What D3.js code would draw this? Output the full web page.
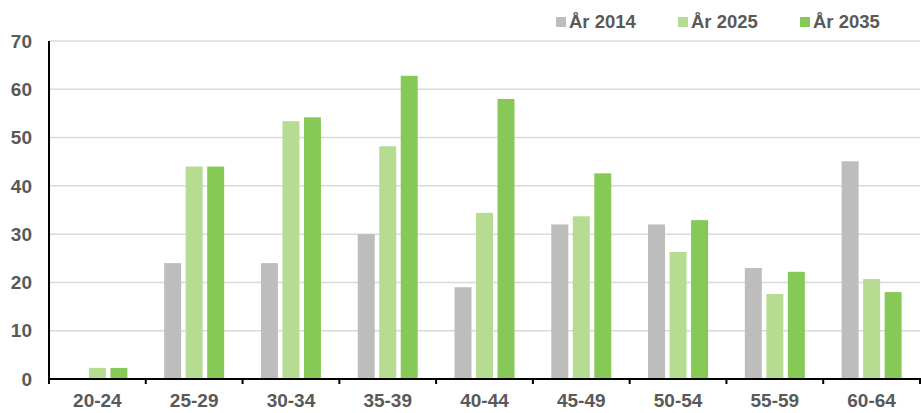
<!DOCTYPE html>
<html><head><meta charset="utf-8">
<script src="https://cdn.jsdelivr.net/npm/d3@7"></script>
<style>
html,body{margin:0;padding:0;background:#fff;}
svg{display:block;}
text{font-family:"Liberation Sans",Arial,sans-serif;font-weight:bold;fill:#595959;}
</style></head>
<body>
<svg id="c" width="921" height="413"></svg>
<script>
const categories = ["20-24","25-29","30-34","35-39","40-44","45-49","50-54","55-59","60-64"];
const seriesNames = ["År 2014","År 2025","År 2035"];
const seriesColors = ["#bdbdbb","#b6dc91","#86c957"];
const values2014 = [0, 24, 24, 30, 19, 32, 32, 23, 45.1];
const values2025 = [2.3, 44, 53.4, 48.2, 34.4, 33.7, 26.3, 17.6, 20.7];
const values2035 = [2.3, 44, 54.2, 62.8, 58, 42.6, 32.9, 22.2, 18];
const yTicks = [0,10,20,30,40,50,60,70];

const seriesValues = [values2014, values2025, values2035];
const svg = d3.select("#c");
const L = 49, R = 920, T = 41, B = 379;

const x = d3.scaleBand().domain(categories).range([L, R]).padding(0);
const y = d3.scaleLinear().domain([0,70]).range([B, T]);
const xi = d3.scaleBand().domain(seriesNames).range([-30, 30]).paddingInner(0.21).paddingOuter(0);

// gridlines
svg.append("g").selectAll("line").data(yTicks.filter(d=>d>0)).join("line")
  .attr("x1", L).attr("x2", R).attr("y1", d=>y(d)).attr("y2", d=>y(d))
  .attr("stroke", "#d9d9d9").attr("stroke-width", 1.5);

// y labels
svg.append("g").selectAll("text").data(yTicks).join("text")
  .attr("x", 32).attr("y", d=>y(d)).attr("dy", "0.35em")
  .attr("text-anchor", "end").attr("font-size", 19).text(d=>d);

// bars
seriesNames.forEach((s, si) => {
  svg.append("g").selectAll("rect")
    .data(categories.map((c, i) => ({c, v: seriesValues[si][i]})).filter(d => d.v > 0))
    .join("rect")
    .attr("x", d => x(d.c) + x.bandwidth()/2 + xi(s))
    .attr("width", xi.bandwidth())
    .attr("y", d => y(d.v))
    .attr("height", d => y(0) - y(d.v))
    .attr("fill", seriesColors[si]);
});

// axes lines
svg.append("line").attr("x1", L).attr("x2", L).attr("y1", T).attr("y2", B)
  .attr("stroke", "#000").attr("stroke-width", 2);
svg.append("line").attr("x1", L-1).attr("x2", R+1).attr("y1", B).attr("y2", B)
  .attr("stroke", "#000").attr("stroke-width", 2);
const bounds = categories.map(c => x(c)).concat([R]);
svg.append("g").selectAll("line").data(bounds).join("line")
  .attr("x1", d=>d).attr("x2", d=>d).attr("y1", B).attr("y2", B+5)
  .attr("stroke", "#000").attr("stroke-width", 2);

// x labels
svg.append("g").selectAll("text").data(categories).join("text")
  .attr("x", d => x(d) + x.bandwidth()/2).attr("y", 407)
  .attr("text-anchor", "middle").attr("font-size", 19).text(d=>d);

// legend
const legX = [556, 678, 800];
seriesNames.forEach((s, i) => {
  svg.append("rect").attr("x", legX[i]).attr("y", 17).attr("width", 10).attr("height", 10)
    .attr("fill", seriesColors[i]);
  svg.append("text").attr("x", legX[i] + 13).attr("y", 28).attr("font-size", 18.5).text(s);
});
</script>
</body></html>
